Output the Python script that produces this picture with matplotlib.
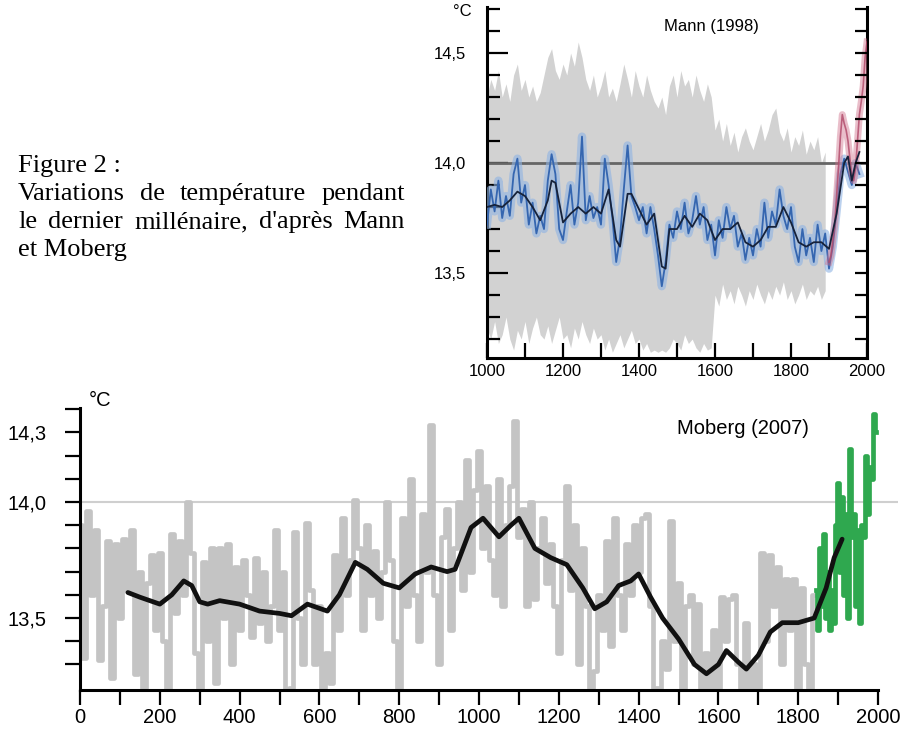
import numpy as np
import matplotlib
matplotlib.use("Agg")
import matplotlib.pyplot as plt
from matplotlib.ticker import MultipleLocator, FixedLocator, FuncFormatter

W, H = 907, 729

# ---------------- Mann (1998) ----------------
mann_band_years = list(range(1000, 1900, 10))
mann_band_hi = [14.30, 14.38, 14.33, 14.42, 14.30, 14.36, 14.28, 14.40, 14.45, 14.33,
                14.38, 14.30, 14.35, 14.28, 14.32, 14.40, 14.48, 14.52, 14.42, 14.38,
                14.45, 14.40, 14.50, 14.44, 14.55, 14.48, 14.38, 14.33, 14.40, 14.30,
                14.35, 14.42, 14.30, 14.34, 14.28, 14.36, 14.45, 14.38, 14.30, 14.42,
                14.35, 14.30, 14.40, 14.33, 14.28, 14.25, 14.30, 14.22, 14.35, 14.40,
                14.30, 14.42, 14.35, 14.38, 14.30, 14.40, 14.33, 14.28, 14.36, 14.30,
                14.15, 14.20, 14.10, 14.18, 14.08, 14.14, 14.05, 14.12, 14.16, 14.10,
                14.06, 14.12, 14.18, 14.10, 14.15, 14.22, 14.25, 14.14, 14.10, 14.16,
                14.05, 14.12, 14.08, 14.15, 14.04, 14.10, 14.06, 14.12, 14.00, 14.05]
mann_band_lo = [13.25, 13.20, 13.28, 13.18, 13.22, 13.30, 13.20, 13.15, 13.24, 13.20,
                13.28, 13.18, 13.25, 13.30, 13.22, 13.20, 13.26, 13.18, 13.24, 13.30,
                13.20, 13.22, 13.16, 13.25, 13.20, 13.28, 13.22, 13.18, 13.25, 13.20,
                13.22, 13.15, 13.20, 13.14, 13.18, 13.22, 13.16, 13.20, 13.24, 13.18,
                13.20, 13.15, 13.18, 13.14, 13.15, 13.14, 13.15, 13.14, 13.16, 13.20,
                13.18, 13.15, 13.22, 13.18, 13.20, 13.16, 13.14, 13.18, 13.15, 13.16,
                13.40, 13.35, 13.45, 13.38, 13.42, 13.36, 13.44, 13.40, 13.35, 13.42,
                13.38, 13.45, 13.40, 13.36, 13.42, 13.38, 13.44, 13.40, 13.46, 13.38,
                13.42, 13.36, 13.40, 13.45, 13.38, 13.42, 13.40, 13.44, 13.38, 13.42]

mann_years = list(range(1000, 1990, 10))
mann_blue = [13.72, 13.88, 13.78, 13.92, 13.75, 13.85, 13.76, 13.95, 14.02, 13.82,
             13.90, 13.72, 13.82, 13.68, 13.76, 13.70, 13.92, 14.04, 13.95, 13.70,
             13.65, 13.78, 13.90, 13.72, 13.82, 14.12, 13.74, 13.85, 13.75, 13.80,
             13.72, 14.02, 13.90, 13.75, 13.55, 13.66, 13.88, 14.08, 13.85, 13.80,
             13.74, 13.80, 13.68, 13.80, 13.70, 13.58, 13.44, 13.55, 13.72, 13.66,
             13.78, 13.70, 13.82, 13.68, 13.74, 13.85, 13.72, 13.80, 13.65, 13.72,
             13.58, 13.74, 13.66, 13.80, 13.70, 13.76, 13.62, 13.68, 13.56, 13.66,
             13.58, 13.70, 13.62, 13.82, 13.66, 13.78, 13.72, 13.88, 13.76, 13.70,
             13.80, 13.62, 13.55, 13.70, 13.58, 13.66, 13.55, 13.72, 13.60, 13.68,
             13.52, 13.62, 13.78, 13.95, 14.02, 13.96, 13.90, 14.00, 13.95]

mann_smooth_years = [1000, 1020, 1040, 1060, 1080, 1100, 1120, 1140, 1160, 1170, 1180,
                     1200, 1220, 1240, 1260, 1280, 1300, 1320, 1340, 1350, 1370, 1380,
                     1400, 1420, 1440, 1460, 1470, 1480, 1500, 1520, 1540, 1560, 1580,
                     1600, 1620, 1640, 1660, 1680, 1700, 1720, 1740, 1760, 1780, 1800,
                     1820, 1840, 1860, 1880, 1900, 1920, 1940, 1950, 1960, 1970, 1980]
mann_smooth = [13.80, 13.81, 13.80, 13.83, 13.87, 13.85, 13.80, 13.74, 13.83, 13.92, 13.91,
               13.73, 13.77, 13.80, 13.77, 13.80, 13.77, 13.88, 13.65, 13.62, 13.86, 13.86,
               13.79, 13.72, 13.77, 13.53, 13.52, 13.70, 13.70, 13.76, 13.71, 13.77, 13.74,
               13.65, 13.70, 13.70, 13.73, 13.64, 13.62, 13.65, 13.71, 13.71, 13.80, 13.73,
               13.64, 13.62, 13.64, 13.64, 13.61, 13.77, 14.00, 14.03, 13.92, 14.00, 14.05]

instr_years = list(range(1900, 2005, 5))
instr_temp = [13.55, 13.58, 13.65, 13.72, 13.85, 13.98, 14.12, 14.22, 14.18, 14.15, 14.10,
              14.02, 13.95, 13.92, 13.98, 14.10, 14.22, 14.28, 14.35, 14.48, 14.55]

# ---------------- Moberg (2007) ----------------
moberg_years = list(range(0, 1850, 10))
moberg_temp = [13.90, 13.33, 13.96, 13.60, 13.88, 13.32, 13.55, 13.83, 13.24, 13.82,
               13.50, 13.84, 13.62, 13.88, 13.26, 13.70, 13.20, 13.65, 13.77, 13.45,
               13.78, 13.40, 13.18, 13.86, 13.52, 13.83, 13.60, 14.00, 13.78, 13.35,
               13.20, 13.74, 13.40, 13.80, 13.22, 13.80, 13.50, 13.82, 13.30, 13.72,
               13.45, 13.75, 13.60, 13.42, 13.76, 13.48, 13.70, 13.40, 13.55, 13.88,
               13.45, 13.70, 13.18, 13.20, 13.87, 13.50, 13.30, 13.91, 13.62, 13.30,
               13.55, 13.20, 13.35, 13.22, 13.77, 13.45, 13.93, 13.60, 13.75, 14.01,
               13.80, 13.45, 13.90, 13.60, 13.79, 13.50, 13.70, 14.00, 13.75, 13.40,
               13.20, 13.93, 13.55, 14.10, 13.60, 13.40, 13.95, 13.70, 14.33, 13.60,
               13.30, 13.85, 13.97, 13.45, 13.80, 14.00, 13.62, 14.18, 13.70, 14.05,
               14.22, 13.80, 14.07, 13.75, 13.60, 14.10, 13.55, 13.90, 14.07, 14.35,
               13.85, 13.97, 13.55, 14.00, 13.58, 13.80, 13.93, 13.65, 13.82, 13.55,
               13.35, 13.75, 14.07, 13.62, 13.90, 13.30, 13.80, 13.55, 13.20, 13.27,
               13.60, 13.45, 13.83, 13.38, 13.93, 13.60, 13.45, 13.82, 13.60, 13.90,
               13.70, 13.93, 13.95, 13.55, 13.20, 13.20, 13.40, 13.28, 13.92, 13.40,
               13.65, 13.20, 13.55, 13.60, 13.30, 13.56, 13.20, 13.35, 13.20, 13.45,
               13.20, 13.59, 13.40, 13.58, 13.60, 13.30, 13.20, 13.48, 13.20, 13.30,
               13.20, 13.78, 13.40, 13.77, 13.55, 13.72, 13.30, 13.67, 13.45, 13.67,
               13.20, 13.63, 13.30, 13.20, 13.60]

modern_years = list(range(1845, 2000, 5))
modern_temp = [13.62, 13.45, 13.80, 13.55, 13.86, 13.50, 13.70, 13.45, 13.62, 13.48,
               13.90, 14.08, 13.70, 14.02, 13.60, 13.95, 13.50, 14.23, 13.85, 13.95,
               13.55, 13.88, 13.48, 13.90, 13.85, 14.20, 13.95, 14.15, 14.10, 14.38, 14.30]

moberg_smooth_years = [120, 150, 200, 230, 260, 280, 300, 320, 350, 400, 450, 500, 530,
                       570, 620, 650, 690, 720, 760, 800, 840, 880, 920, 940, 980, 1010,
                       1050, 1080, 1100, 1140, 1180, 1220, 1260, 1290, 1320, 1350, 1380,
                       1400, 1430, 1460, 1500, 1540, 1570, 1600, 1620, 1650, 1670, 1700,
                       1730, 1760, 1800, 1840, 1870, 1890, 1910]
moberg_smooth = [13.61, 13.59, 13.56, 13.60, 13.66, 13.64, 13.57, 13.56, 13.575, 13.56,
                 13.53, 13.52, 13.51, 13.56, 13.53, 13.60, 13.74, 13.71, 13.65, 13.63,
                 13.69, 13.72, 13.70, 13.71, 13.89, 13.93, 13.85, 13.90, 13.93, 13.80,
                 13.76, 13.73, 13.63, 13.54, 13.57, 13.64, 13.66, 13.69, 13.59, 13.50,
                 13.41, 13.30, 13.26, 13.30, 13.36, 13.31, 13.28, 13.34, 13.44, 13.48,
                 13.48, 13.50, 13.63, 13.76, 13.84]

comma = FuncFormatter(lambda v, p: f"{v:.1f}".replace(".", ","))
sans = "Liberation Sans"

fig = plt.figure(figsize=(W / 100, H / 100), dpi=100)

# ---------- top chart ----------
ax1 = fig.add_axes([487 / W, 1 - 358 / H, 380 / W, 351 / H])
ax1.fill_between(mann_band_years, mann_band_lo, mann_band_hi,
                 color="#d2d2d2", lw=0, zorder=1)
ax1.axhline(14.0, color="#666666", lw=2, zorder=2)
ax1.plot(mann_years, mann_blue, color="#8fb3e3", lw=6, alpha=0.6, zorder=3)
ax1.plot(mann_years, mann_blue, color="#3566b0", lw=1.3, zorder=4)
ax1.plot(instr_years, instr_temp, color="#d0708a", lw=5, alpha=0.45, zorder=4)
ax1.plot(instr_years, instr_temp, color="#b04868", lw=1.2, alpha=0.8, zorder=4)
ax1.plot(mann_smooth_years, mann_smooth, color="#16223a", lw=1.3, zorder=5)

ax1.set_xlim(1000, 2000)
ax1.set_ylim(13.114, 14.709)
ax1.spines["top"].set_visible(False)
for s in ["left", "right", "bottom"]:
    ax1.spines[s].set_linewidth(2.2)
ax1.xaxis.set_major_locator(MultipleLocator(200))
ax1.xaxis.set_minor_locator(MultipleLocator(100))
ax1.yaxis.set_major_locator(FixedLocator([13.5, 14.0, 14.5]))
ax1.yaxis.set_minor_locator(MultipleLocator(0.1))
ax1.yaxis.set_major_formatter(comma)
ax1.tick_params(axis="x", which="both", direction="in", length=11, width=1.6,
                labelsize=12, pad=4)
ax1.tick_params(axis="y", which="major", direction="in", length=15, width=1.6,
                labelsize=12, pad=15)
ax1.tick_params(axis="y", which="minor", direction="in", length=9, width=1.6)
for lab in ax1.get_xticklabels() + ax1.get_yticklabels():
    lab.set_fontfamily(sans)

ax1r = ax1.twinx()
ax1r.set_ylim(ax1.get_ylim())
ax1r.yaxis.set_major_locator(MultipleLocator(0.1))
ax1r.tick_params(axis="y", direction="in", length=9, width=1.6, labelright=False)
for s in ax1r.spines.values():
    s.set_visible(False)

fig.text(462 / W, 1 - 12 / H, "°C", fontsize=12, family=sans, ha="center", va="center")
fig.text(711 / W, 1 - 27 / H, "Mann (1998)", fontsize=12, family=sans,
         ha="center", va="center")

# ---------- bottom chart ----------
ax2 = fig.add_axes([80 / W, 1 - 690 / H, 818 / W, 282 / H])
ax2.axhline(14.0, color="#cfcfcf", lw=1.5, zorder=1)
ax2.plot(moberg_years, moberg_temp, color="#c4c4c4", lw=3.4,
         drawstyle="steps-mid", zorder=2)
ax2.plot(modern_years, modern_temp, color="#2fa84f", lw=3.4,
         drawstyle="steps-mid", zorder=3)
ax2.plot(moberg_smooth_years, moberg_smooth, color="#111111", lw=3.4,
         solid_capstyle="round", solid_joinstyle="round", zorder=4)

ax2.set_xlim(0, 2050)
ax2.set_ylim(13.19, 14.405)
ax2.spines["top"].set_visible(False)
ax2.spines["right"].set_visible(False)
ax2.spines["left"].set_linewidth(2.2)
ax2.spines["bottom"].set_linewidth(2.2)
ax2.spines["bottom"].set_bounds(0, 2000)
ax2.xaxis.set_major_locator(FixedLocator(list(range(0, 2001, 200))))
ax2.xaxis.set_minor_locator(FixedLocator(list(range(100, 2000, 200))))
ax2.yaxis.set_major_locator(FixedLocator([13.5, 14.0, 14.3]))
ax2.yaxis.set_minor_locator(FixedLocator([13.3, 13.4, 13.6, 13.7, 13.8, 13.9,
                                          14.1, 14.2, 14.4]))
ax2.yaxis.set_major_formatter(comma)
ax2.tick_params(axis="both", which="both", direction="out", length=11, width=1.6)
ax2.tick_params(axis="x", which="major", labelsize=14.5, pad=2)
ax2.tick_params(axis="y", which="major", labelsize=14.5, pad=13)
for lab in ax2.get_xticklabels() + ax2.get_yticklabels():
    lab.set_fontfamily(sans)

fig.text(100 / W, 1 - 400 / H, "°C", fontsize=14.5, family=sans, ha="center", va="center")
fig.text(677 / W, 1 - 428 / H, "Moberg (2007)", fontsize=14.5, family=sans,
         ha="left", va="center")

# ---------- caption (justified) ----------
serif = "Liberation Serif"
fig.canvas.draw()
renderer = fig.canvas.get_renderer()


def caption_line(words, y, justify, x0=18, x1=405):
    if not justify:
        fig.text(x0 / W, 1 - y / H, " ".join(words), fontsize=19, family=serif,
                 ha="left", va="baseline")
        return
    texts = [fig.text(x0 / W, 1 - y / H, w, fontsize=19, family=serif,
                      ha="left", va="baseline") for w in words]
    widths = [t.get_window_extent(renderer).width for t in texts]
    gap = (x1 - x0 - sum(widths)) / (len(words) - 1)
    x = x0
    for t, w in zip(texts, widths):
        t.set_x(x / W)
        x += w + gap


caption_line(["Figure", "2", ":"], 172, False)
caption_line(["Variations", "de", "température", "pendant"], 200, True)
caption_line(["le", "dernier", "millénaire,", "d'après", "Mann"], 228, True)
caption_line(["et", "Moberg"], 256, False)

fig.savefig("out.png", dpi=100)
